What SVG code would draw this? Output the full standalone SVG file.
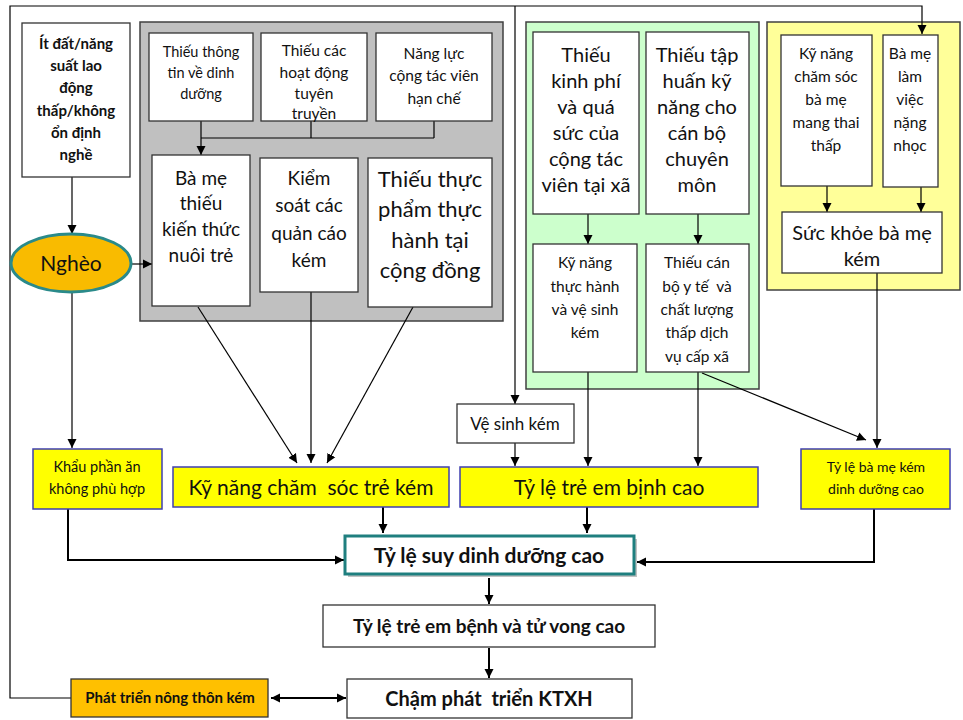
<svg xmlns="http://www.w3.org/2000/svg" width="963" height="720" viewBox="0 0 963 720">
<style>
  text { font-family: Lato, "Liberation Sans", "DejaVu Sans", sans-serif; fill: #111; text-anchor: middle; }
  .b { font-weight: bold; }
  .box { fill: #fff; stroke: #333; stroke-width: 1.3; }
  .ybox { fill: #ffff00; stroke: #3f3fb0; stroke-width: 1.5; }
  .ln { fill: none; stroke: #000; stroke-width: 1.2; }
  .lnb { fill: none; stroke: #000; stroke-width: 2; }
</style>
<defs>
  <marker id="ah" viewBox="0 0 10 10" refX="10" refY="5" markerWidth="9" markerHeight="10" markerUnits="userSpaceOnUse" orient="auto-start-reverse">
    <path d="M0,0 L10,5 L0,10 z" fill="#000"/>
  </marker>
</defs>
<rect width="963" height="720" fill="#fff"/>

<!-- group containers -->
<g id="grey-group"><rect x="140" y="22" width="363" height="299" fill="#c0c0c0" stroke="#404040" stroke-width="1.5"/></g>
<g id="green-group"><rect x="526" y="22" width="233" height="367" fill="#ccffcc" stroke="#404040" stroke-width="1.5"/></g>
<g id="yellow-group"><rect x="767" y="22" width="193" height="268" fill="#ffff99" stroke="#404040" stroke-width="1.5"/></g>

<g id="connectors">
  <path class="ln" d="M72,177 V234" marker-end="url(#ah)"/>
  <path class="ln" d="M131,264 H152" marker-end="url(#ah)"/>
  <path class="ln" d="M72,292 V448" marker-end="url(#ah)"/>
  <path class="ln" d="M201,121 V155" marker-end="url(#ah)"/>
  <path class="ln" d="M311,121 V138 M434,121 V138 M201,138 H434"/>
  <path class="ln" d="M198,307 L297,463" marker-end="url(#ah)"/>
  <path class="ln" d="M311,292 V463" marker-end="url(#ah)"/>
  <path class="ln" d="M413,307 L327,463" marker-end="url(#ah)"/>
  <path class="ln" d="M588,214 V244" marker-end="url(#ah)"/>
  <path class="ln" d="M698,214 V244" marker-end="url(#ah)"/>
  <path class="ln" d="M588,372 V466" marker-end="url(#ah)"/>
  <path class="ln" d="M698,372 V466" marker-end="url(#ah)"/>
  <path class="ln" d="M702,373 L866,440" marker-end="url(#ah)"/>
  <path class="ln" d="M827,186 V212" marker-end="url(#ah)"/>
  <path class="ln" d="M921,187 V212" marker-end="url(#ah)"/>
  <path class="ln" d="M877,273 V448" marker-end="url(#ah)"/>
  <path class="ln" d="M71,698 H10 V6 H922 V34" marker-end="url(#ah)"/>
  <path class="ln" d="M515,6 V404" marker-end="url(#ah)"/>
  <path class="ln" d="M515,443 V466" marker-end="url(#ah)"/>
  <path class="lnb" d="M68,509 V560 H344" marker-end="url(#ah)"/>
  <path class="lnb" d="M874,509 V562 H637" marker-end="url(#ah)"/>
  <path class="lnb" d="M383,507 V533" marker-end="url(#ah)"/>
  <path class="lnb" d="M587,507 V533" marker-end="url(#ah)"/>
  <path class="lnb" d="M489,578 V604" marker-end="url(#ah)"/>
  <path class="lnb" d="M489,648 V678" marker-end="url(#ah)"/>
  <path class="lnb" d="M271,698 H346" marker-start="url(#ah)" marker-end="url(#ah)"/>
</g>

<g id="it-dat">
  <rect class="box" x="22" y="23" width="108" height="154"/>
  <text class="b" font-size="15" x="76" y="49">Ít đất/năng</text>
  <text class="b" font-size="15" x="76" y="71">suất lao</text>
  <text class="b" font-size="15" x="76" y="93">động</text>
  <text class="b" font-size="15" x="76" y="116">thấp/không</text>
  <text class="b" font-size="15" x="76" y="138">ổn định</text>
  <text class="b" font-size="15" x="76" y="160">nghề</text>
</g>

<g id="ngheo">
  <ellipse cx="71" cy="263" rx="60" ry="29" fill="#f9bb00" stroke="#2a8a8a" stroke-width="3"/>
  <text font-size="21" x="71" y="271">Nghèo</text>
</g>

<g id="thieu-thong-tin">
  <rect class="box" x="149" y="33" width="104" height="88"/>
  <text font-size="14.5" x="201" y="57">Thiếu thông</text>
  <text font-size="14.5" x="201" y="78">tin về dinh</text>
  <text font-size="14.5" x="201" y="99">dưỡng</text>
</g>
<g id="thieu-hoat-dong">
  <rect class="box" x="261" y="33" width="106" height="88"/>
  <text font-size="15.5" x="314" y="56">Thiếu các</text>
  <text font-size="15.5" x="314" y="78">hoạt động</text>
  <text font-size="15.5" x="314" y="99">tuyên</text>
  <text font-size="15.5" x="314" y="119">truyền</text>
</g>
<g id="nang-luc">
  <rect class="box" x="376" y="33" width="116" height="88"/>
  <text font-size="15.5" x="434" y="59">Năng lực</text>
  <text font-size="15.5" x="434" y="81">cộng tác viên</text>
  <text font-size="15.5" x="434" y="104">hạn chế</text>
</g>
<g id="ba-me-thieu">
  <rect class="box" x="152" y="155" width="98" height="151"/>
  <text font-size="19" x="201" y="185">Bà mẹ</text>
  <text font-size="19" x="201" y="210">thiếu</text>
  <text font-size="19" x="201" y="236">kiến thức</text>
  <text font-size="19" x="201" y="262">nuôi trẻ</text>
</g>
<g id="kiem-soat">
  <rect class="box" x="260" y="158" width="98" height="134"/>
  <text font-size="19" x="309" y="185">Kiểm</text>
  <text font-size="19" x="309" y="212">soát các</text>
  <text font-size="19" x="309" y="240">quản cáo</text>
  <text font-size="19" x="309" y="267">kém</text>
</g>
<g id="thieu-thuc-pham">
  <rect class="box" x="368" y="158" width="124" height="149"/>
  <text font-size="22" x="430" y="187">Thiếu thực</text>
  <text font-size="22" x="430" y="217">phẩm thực</text>
  <text font-size="22" x="430" y="248">hành tại</text>
  <text font-size="22" x="430" y="278">cộng đồng</text>
</g>

<g id="thieu-kinh-phi">
  <rect class="box" x="533" y="32" width="106" height="182"/>
  <text font-size="20" x="586" y="62">Thiếu</text>
  <text font-size="20" x="586" y="88">kinh phí</text>
  <text font-size="20" x="586" y="114">và quá</text>
  <text font-size="20" x="586" y="140">sức của</text>
  <text font-size="20" x="586" y="166">cộng tác</text>
  <text font-size="20" x="586" y="192">viên tại xã</text>
</g>
<g id="thieu-tap-huan">
  <rect class="box" x="646" y="32" width="103" height="182"/>
  <text font-size="20" x="697" y="62">Thiếu tập</text>
  <text font-size="20" x="697" y="88">huấn kỹ</text>
  <text font-size="20" x="697" y="114">năng cho</text>
  <text font-size="20" x="697" y="140">cán bộ</text>
  <text font-size="20" x="697" y="166">chuyên</text>
  <text font-size="20" x="697" y="192">môn</text>
</g>
<g id="ky-nang-thuc-hanh">
  <rect class="box" x="533" y="244" width="104" height="128"/>
  <text font-size="15.5" x="585" y="268">Kỹ năng</text>
  <text font-size="15.5" x="585" y="292">thực hành</text>
  <text font-size="15.5" x="585" y="315">và vệ sinh</text>
  <text font-size="15.5" x="585" y="338">kém</text>
</g>
<g id="thieu-can-bo">
  <rect class="box" x="646" y="244" width="103" height="128"/>
  <text font-size="15.5" x="697" y="268">Thiếu cán</text>
  <text font-size="15.5" x="697" y="292" xml:space="preserve">bộ y tế  và</text>
  <text font-size="15.5" x="697" y="315">chất lượng</text>
  <text font-size="15.5" x="697" y="338">thấp dịch</text>
  <text font-size="15.5" x="697" y="362">vụ cấp xã</text>
</g>

<g id="ky-nang-cham-soc-ba-me">
  <rect class="box" x="781" y="35" width="91" height="151"/>
  <text font-size="15.5" x="826" y="59">Kỹ năng</text>
  <text font-size="15.5" x="826" y="82">chăm sóc</text>
  <text font-size="15.5" x="826" y="105">bà mẹ</text>
  <text font-size="15.5" x="826" y="128">mang thai</text>
  <text font-size="15.5" x="826" y="151">thấp</text>
</g>
<g id="ba-me-lam-viec">
  <rect class="box" x="883" y="35" width="55" height="152"/>
  <text font-size="15.5" x="910" y="59">Bà mẹ</text>
  <text font-size="15.5" x="910" y="82">làm</text>
  <text font-size="15.5" x="910" y="105">việc</text>
  <text font-size="15.5" x="910" y="128">nặng</text>
  <text font-size="15.5" x="910" y="151">nhọc</text>
</g>
<g id="suc-khoe">
  <rect class="box" x="782" y="212" width="160" height="61"/>
  <text font-size="20" x="862" y="240">Sức khỏe bà mẹ</text>
  <text font-size="20" x="862" y="266">kém</text>
</g>

<g id="ve-sinh-kem">
  <rect class="box" x="457" y="404" width="117" height="39"/>
  <text font-size="17" x="515" y="430">Vệ sinh kém</text>
</g>

<g id="khau-phan">
  <rect class="ybox" x="33" y="449" width="129" height="60"/>
  <text font-size="14.5" x="97" y="472">Khẩu phần ăn</text>
  <text font-size="14.5" x="97" y="494">không phù hợp</text>
</g>
<g id="ky-nang-cham-soc-tre">
  <rect class="ybox" x="173" y="467" width="276" height="40"/>
  <text font-size="21" x="311" y="495" xml:space="preserve">Kỹ năng chăm  sóc trẻ kém</text>
</g>
<g id="ty-le-tre-em-binh">
  <rect class="ybox" x="460" y="467" width="298" height="40"/>
  <text font-size="21" x="609" y="495">Tỷ lệ trẻ em bịnh cao</text>
</g>
<g id="ty-le-ba-me">
  <rect class="ybox" x="801" y="449" width="149" height="60"/>
  <text font-size="14" x="876" y="472">Tỷ lệ bà mẹ kém</text>
  <text font-size="14" x="876" y="494">dinh dưỡng cao</text>
</g>

<g id="ty-le-suy">
  <rect x="348" y="539" width="289" height="38" fill="#9a9a9a" opacity="0.6"/>
  <rect x="345" y="536" width="289" height="38" fill="#fff" stroke="#1f7f7f" stroke-width="3"/>
  <text class="b" font-size="21" x="489" y="563">Tỷ lệ suy dinh dưỡng cao</text>
</g>
<g id="ty-le-benh">
  <rect class="box" x="323" y="605" width="332" height="42"/>
  <text class="b" font-size="19" x="489" y="633">Tỷ lệ trẻ em bệnh và tử vong cao</text>
</g>
<g id="cham-phat-trien">
  <rect class="box" x="347" y="679" width="285" height="39"/>
  <text class="b" font-size="20" x="489" y="706" xml:space="preserve">Chậm phát  triển KTXH</text>
</g>
<g id="phat-trien-nong-thon">
  <rect x="71" y="679" width="197" height="38" fill="#ffc000" stroke="#333" stroke-width="1.3"/>
  <text class="b" font-size="15" x="170" y="703">Phát triển nông thôn kém</text>
</g>
</svg>
